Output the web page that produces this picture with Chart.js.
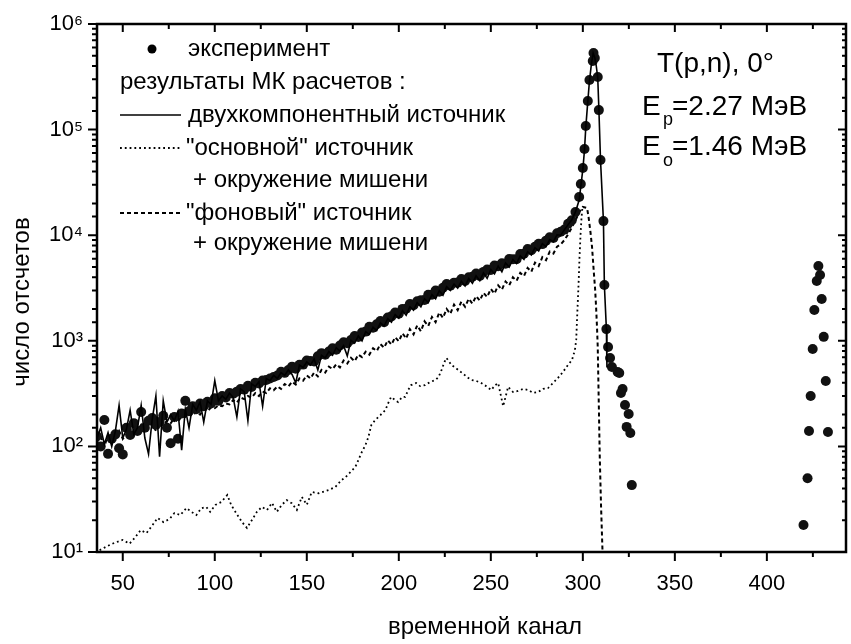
<!DOCTYPE html>
<html>
<head>
<meta charset="utf-8">
<script src="https://cdn.jsdelivr.net/npm/chart.js@4/dist/chart.umd.min.js"></script>
<style>
  html, body { margin: 0; padding: 0; background: #fff; }
  canvas { display: block; }
</style>
</head>
<body>
<canvas id="spectrum" width="851" height="644"></canvas>
<script>
// time channels of the continuum part (every 2nd channel)
var channels = [
    36, 38, 40, 42, 44, 46, 48, 50, 52, 54,
    56, 58, 60, 62, 64, 66, 68, 70, 72, 74,
    76, 78, 80, 82, 84, 86, 88, 90, 92, 94,
    96, 98, 100, 102, 104, 106, 108, 110, 112, 114,
    116, 118, 120, 122, 124, 126, 128, 130, 132, 134,
    136, 138, 140, 142, 144, 146, 148, 150, 152, 154,
    156, 158, 160, 162, 164, 166, 168, 170, 172, 174,
    176, 178, 180, 182, 184, 186, 188, 190, 192, 194,
    196, 198, 200, 202, 204, 206, 208, 210, 212, 214,
    216, 218, 220, 222, 224, 226, 228, 230, 232, 234,
    236, 238, 240, 242, 244, 246, 248, 250, 252, 254,
    256, 258, 260, 262, 264, 266, 268, 270, 272, 274,
    276, 278, 280, 282, 284, 286, 288, 290, 292, 294,
    296, 298
];

// measured counts
var expCounts = [
    125, 100, 178, 85, 118, 130, 96, 84, 150, 128,
    166, 140, 212, 150, 175, 186, 160, 170, 195, 150,
    107, 190, 118, 205, 270, 215, 240, 225, 255, 240,
    265, 255, 285, 270, 300, 290, 320, 315, 330, 350,
    345, 375, 365, 400, 395, 420, 425, 440, 455, 470,
    510, 497, 530, 569, 544, 593, 595, 652, 643, 638,
    714, 764, 737, 791, 850, 824, 903, 969, 950, 1017,
    1110, 1087, 1199, 1222, 1356, 1330, 1437, 1538, 1499, 1662,
    1704, 1850, 1808, 2005, 2014, 2230, 2176, 2365, 2423, 2431,
    2723, 2729, 2994, 2919, 3174, 3446, 3317, 3555, 3556, 3847,
    3692, 3998, 4040, 4327, 4119, 4494, 4742, 4685, 5154, 5093,
    5430, 5361, 5959, 5934, 5912, 6623, 6668, 7384, 7205, 7773,
    8280, 8235, 8884, 9554, 9402, 10444, 10797, 11300, 12842, 13860,
    16600, 23000
];
var expPeakChannels = [298.9, 300.0, 300.9, 301.6, 302.7, 303.6, 305.4, 305.8, 306.5, 308.1,
    308.7, 309.6, 311.2, 311.7, 312.8, 313.7, 314.8, 315.8, 318.9, 319.8,
    320.7, 321.6, 322.9, 323.8, 324.9, 325.8, 326.6];
var expPeakCounts = [30500, 43300, 65500, 108000, 186600, 295000, 447000, 531000, 476000, 315000,
    153000, 51500, 13600, 3380, 1290, 873, 687, 565, 507, 495,
    320, 350, 247, 153, 203, 134, 43];
var expFarChannels = [419.9, 422.1, 422.9, 423.8, 424.9, 425.8, 427.1, 428.0, 428.9, 429.8, 430.9, 432.0, 433.2];
var expFarCounts = [18, 50, 140, 300, 835, 1960, 3680, 5110, 4200, 2490, 1090, 416, 137];

// MC: two-component source
var twoCompCounts = [
    120, 150, 105, 135, 100, 140, 245, 120, 145, 220,
    130, 150, 245, 120, 85, 180, 300, 80, 270, 170,
    200, 175, 215, 92, 225, 150, 250, 220, 265, 170,
    270, 250, 420, 270, 300, 280, 320, 290, 190, 350,
    330, 175, 390, 370, 410, 240, 440, 420, 470, 440,
    500, 470, 530, 480, 400, 590, 560, 630, 590, 670,
    530, 730, 690, 790, 730, 860, 800, 900, 720, 1010,
    950, 1110, 1000, 1220, 1150, 1340, 1250, 1480, 1380, 1620,
    1500, 1770, 1640, 1930, 1750, 2100, 1950, 2300, 2100, 2500,
    2300, 2730, 2500, 2980, 2700, 3250, 3000, 3450, 3150, 3660,
    3300, 3880, 3500, 4120, 3700, 4400, 3900, 4730, 4300, 5090,
    4500, 5470, 5000, 5870, 5400, 6370, 5900, 6970, 6500, 7620,
    7100, 8320, 7800, 9100, 8700, 10100, 10000, 11300, 12600, 14000,
    16600, 21500
];
var twoCompPeakChannels = [299.0, 300.0, 300.9, 301.6, 302.7, 303.6, 304.6, 305.6, 306.5, 307.3,
    308.1, 308.7, 309.6, 311.2, 311.7, 312.8, 313.1];
var twoCompPeakCounts = [30000, 42000, 64000, 105000, 185000, 290000, 410000, 530000, 480000, 400000,
    310000, 160000, 51500, 13600, 3380, 1290, 560];

// MC: "background" source + target surroundings
var bgCounts = [
    110, 125, 100, 128, 112, 120, 140, 118, 130, 150,
    125, 142, 160, 135, 150, 165, 140, 170, 160, 175,
    165, 185, 170, 195, 190, 205, 195, 215, 200, 225,
    215, 235, 230, 245, 240, 255, 250, 275, 260, 290,
    280, 300, 290, 320, 300, 330, 320, 355, 340, 370,
    350, 390, 370, 410, 385, 440, 420, 470, 440, 500,
    460, 530, 500, 570, 540, 600, 560, 650, 610, 690,
    640, 740, 700, 790, 740, 850, 800, 930, 860, 1010,
    920, 1080, 990, 1180, 1050, 1290, 1150, 1400, 1230, 1530,
    1380, 1680, 1500, 1850, 1650, 2000, 1800, 2200, 1950, 2350,
    2100, 2500, 2250, 2650, 2400, 2850, 2600, 3100, 2800, 3350,
    3050, 3650, 3350, 4000, 3700, 4400, 4100, 4900, 4500, 5500,
    5100, 6200, 5800, 7000, 6700, 7800, 8200, 9000, 10200, 11800,
    13800, 16500
];
var bgPeakChannels = [300.0, 302.3, 303.1, 304.2, 305.0, 306.0, 306.7, 307.2, 307.7, 308.1, 308.7, 309.2, 309.9, 310.7];
var bgPeakCounts = [18500, 18100, 14900, 10500, 7700, 4380, 3030, 2090, 1350, 870, 236, 79, 27, 10];

// MC: "main" source + target surroundings
var mainChannels = [
    37.4, 41.7, 45.5, 49.9, 53.7, 56.5, 59.7, 62.9, 66.2, 68.9,
    72.1, 75.4, 78.1, 81.3, 84.6, 87.3, 90.0, 92.7, 95.4, 97.5,
    100.3, 103.5, 106.8, 108.9, 111.6, 114.8, 117.5, 120.2, 122.9, 125.6,
    128.4, 131.1, 133.7, 136.4, 139.1, 141.8, 144.6, 147.3, 150.0, 152.7,
    156.4, 161.8, 165.5, 168.9, 171.0, 173.7, 176.4, 178.0, 179.7, 181.9,
    183.5, 185.1, 187.2, 190.0, 192.7, 194.3, 195.8, 198.0, 199.6, 201.8,
    203.5, 205.1, 206.7, 209.4, 211.6, 214.3, 217.0, 220.0, 221.6, 223.2,
    224.8, 225.9, 227.5, 228.6, 230.2, 232.4, 235.1, 237.8, 239.4, 242.1,
    244.8, 247.5, 250.2, 252.4, 254.0, 256.7, 259.4, 262.1, 264.8, 267.5,
    270.3, 273.0, 275.7, 278.4, 281.1, 283.8, 286.5, 289.2, 291.9, 294.1,
    295.7, 296.4, 296.9, 297.7, 298.2, 298.8, 299.3, 299.8
];
var mainCounts = [
    10.4, 11.4, 12.2, 13.0, 12.0, 13.6, 16.1, 15.1, 18.0, 21.0,
    19.2, 20.5, 23.4, 22.4, 26.1, 24.0, 22.4, 26.0, 26.7, 24.0,
    27.9, 29.7, 34.6, 27.9, 23.4, 19.2, 16.9, 20.1, 24.0, 26.7,
    25.0, 29.1, 24.0, 27.9, 31.0, 29.0, 25.0, 33.2, 28.0, 37.0,
    36.0, 38.6, 41.3, 48, 51, 57, 64, 74, 87, 103,
    123, 160, 178, 198, 221, 258, 294, 275, 263, 294,
    294, 342, 381, 398, 372, 381, 407, 426, 454, 528,
    630, 687, 630, 590, 565, 528, 485, 445, 426, 417,
    398, 372, 342, 381, 398, 240, 366, 327, 335, 350,
    342, 321, 327, 350, 357, 398, 445, 507, 590, 658,
    818, 1020, 1680, 3520, 6220, 10480, 14850, 18500
];

var sup = ['\u2070', '\u00b9', '\u00b2', '\u00b3', '\u2074', '\u2075', '\u2076'];
var FONT = "'Liberation Sans', Arial, sans-serif";

function pairs(xs, ys) {
    return xs.map(function (x, i) { return { x: x, y: ys[i] }; });
}
function isDecade(v) {
    var e = Math.round(Math.log10(v));
    return Math.abs(v - Math.pow(10, e)) < 1e-6 * v;
}

// box with ticks on all four sides
var frame = {
    id: 'frame',
    afterDatasetsDraw: function (chart) {
        var ctx = chart.ctx, a = chart.chartArea, x = chart.scales.x, y = chart.scales.y;
        ctx.save();
        ctx.strokeStyle = '#000';
        ctx.lineWidth = 2.5;
        ctx.strokeRect(a.left, a.top, a.right - a.left, a.bottom - a.top);
        ctx.lineWidth = 2;
        ctx.beginPath();
        x.ticks.forEach(function (t) {
            if (t.value % 25) return;
            var px = x.getPixelForValue(t.value);
            var major = t.value % 50 === 0;
            ctx.moveTo(px, a.bottom);
            ctx.lineTo(px, a.bottom + (major ? 9 : 5));
            ctx.moveTo(px, a.top);
            ctx.lineTo(px, a.top + (major ? 8 : 5));
        });
        y.ticks.forEach(function (t) {
            var py = y.getPixelForValue(t.value);
            var major = isDecade(t.value);
            ctx.moveTo(a.left, py);
            ctx.lineTo(a.left - (major ? 9 : 5), py);
            ctx.moveTo(a.right, py);
            ctx.lineTo(a.right - (major ? 8 : 4), py);
        });
        ctx.stroke();
        ctx.restore();
    }
};

// legend block, reaction text and axis titles
var notes = {
    id: 'notes',
    afterDraw: function (chart) {
        var ctx = chart.ctx;
        ctx.save();
        ctx.fillStyle = '#000';
        ctx.strokeStyle = '#000';
        ctx.textBaseline = 'middle';
        ctx.textAlign = 'left';
        ctx.font = '24px ' + FONT;

        ctx.beginPath();
        ctx.arc(152, 49, 4.5, 0, Math.PI * 2);
        ctx.fill();
        ctx.fillText('эксперимент', 188, 49);
        ctx.fillText('результаты МК расчетов :', 120, 82);

        function sample(yy, dash, w) {
            ctx.beginPath();
            ctx.setLineDash(dash);
            ctx.lineWidth = w;
            ctx.moveTo(120, yy);
            ctx.lineTo(181, yy);
            ctx.stroke();
            ctx.setLineDash([]);
        }
        sample(115, [], 1.6);
        ctx.fillText('двухкомпонентный источник', 188, 115);
        sample(148, [1.8, 3], 1.8);
        ctx.fillText('"основной" источник', 186, 148);
        ctx.fillText('+ окружение мишени', 193, 180);
        sample(213, [4, 3], 2);
        ctx.fillText('"фоновый" источник', 186, 213);
        ctx.fillText('+ окружение мишени', 193, 243);

        ctx.font = '28px ' + FONT;
        ctx.fillText('T(p,n), 0\u00b0', 657, 64);
        ctx.fillText('E', 642, 107);
        ctx.fillText('=2.27 МэВ', 672, 107);
        ctx.fillText('E', 642, 147);
        ctx.fillText('=1.46 МэВ', 672, 147);
        ctx.font = '18px ' + FONT;
        ctx.fillText('p', 663, 120);
        ctx.fillText('o', 663, 161);

        ctx.textAlign = 'center';
        ctx.font = '24px ' + FONT;
        ctx.fillText('временной канал', 485, 627);
        ctx.translate(22, 302);
        ctx.rotate(-Math.PI / 2);
        ctx.fillText('число отсчетов', 0, 0);
        ctx.restore();
    }
};

Chart.defaults.font.family = FONT;
Chart.defaults.color = '#000';

new Chart(document.getElementById('spectrum').getContext('2d'), {
    type: 'scatter',
    data: {
        datasets: [{
            label: 'двухкомпонентный источник',
            data: pairs(channels, twoCompCounts).concat(pairs(twoCompPeakChannels, twoCompPeakCounts)),
            showLine: true,
            borderColor: '#000',
            borderWidth: 1.6,
            pointRadius: 0,
            tension: 0
        }, {
            label: 'эксперимент',
            data: pairs(channels, expCounts).concat(pairs(expPeakChannels, expPeakCounts), pairs(expFarChannels, expFarCounts)),
            showLine: false,
            pointRadius: 5,
            pointBackgroundColor: '#111',
            pointBorderWidth: 0
        }, {
            label: '"основной" источник + окружение мишени',
            data: pairs(mainChannels, mainCounts),
            showLine: true,
            borderColor: '#000',
            borderWidth: 1.8,
            borderDash: [1.8, 3],
            pointRadius: 0
        }, {
            label: '"фоновый" источник + окружение мишени',
            data: pairs(channels, bgCounts).concat(pairs(bgPeakChannels, bgPeakCounts)),
            showLine: true,
            borderColor: '#000',
            borderWidth: 2,
            borderDash: [4, 3],
            pointRadius: 0
        }]
    },
    options: {
        responsive: false,
        animation: false,
        devicePixelRatio: 1,
        layout: { padding: { top: 24, right: 1, left: 0, bottom: 0 } },
        plugins: { legend: { display: false }, tooltip: { enabled: false } },
        scales: {
            x: {
                type: 'linear',
                min: 36,
                max: 443,
                afterFit: function (s) {
                    s.height = 92;
                    s.paddingLeft = 0;
                    s.paddingRight = 0;
                },
                grid: { display: false, drawTicks: false },
                border: { display: false },
                ticks: {
                    stepSize: 25,
                    includeBounds: false,
                    autoSkip: false,
                    maxRotation: 0,
                    padding: 19,
                    font: { size: 22 },
                    callback: function (v) { return v % 50 === 0 ? String(v) : ''; }
                }
            },
            y: {
                type: 'logarithmic',
                min: 10,
                max: 1e6,
                afterFit: function (s) {
                    s.width = 97;
                    s.paddingTop = 0;
                    s.paddingBottom = 0;
                },
                grid: { display: false, drawTicks: false },
                border: { display: false },
                ticks: {
                    autoSkip: false,
                    padding: 14,
                    font: { size: 22 },
                    callback: function (v) {
                        return isDecade(v) ? '10' + sup[Math.round(Math.log10(v))] : '';
                    }
                }
            }
        }
    },
    plugins: [frame, notes]
});
</script>
</body>
</html>
